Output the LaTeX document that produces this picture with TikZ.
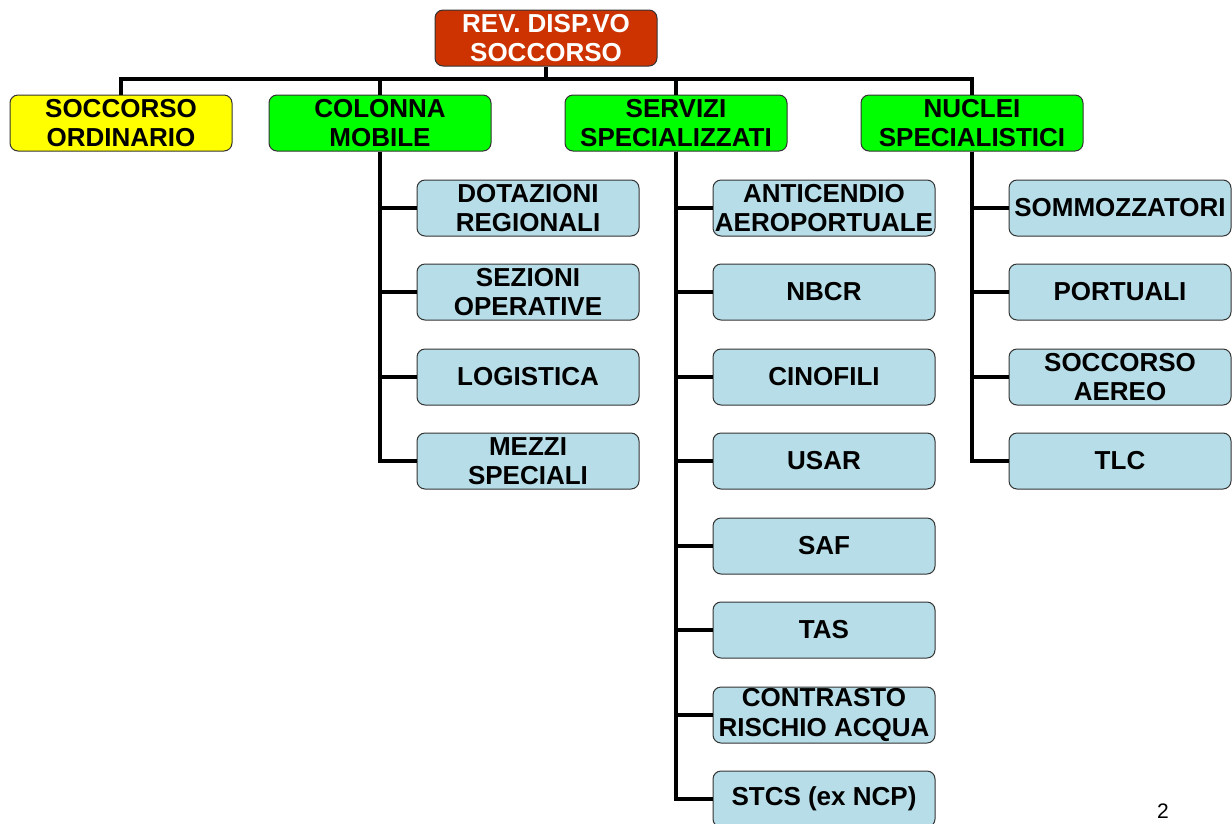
\documentclass[tikz,border=0pt]{standalone}
\usepackage{fontspec}
\setmainfont{Liberation Sans}
\definecolor{rootred}{HTML}{CC3300}
\definecolor{lvlyellow}{HTML}{FFFF00}
\definecolor{lvlgreen}{HTML}{00FF00}
\definecolor{childblue}{HTML}{B7DEE8}
\definecolor{edgegray}{HTML}{333333}
\tikzset{
  box/.style={draw=edgegray, line width=1pt, rounded corners=8pt, minimum width=222pt, minimum height=56pt, inner sep=0pt, align=center, font=\fontsize{26}{29.5}\selectfont\bfseries},
  rootbox/.style={box, fill=rootred, text=white},
  yellowbox/.style={box, fill=lvlyellow},
  greenbox/.style={box, fill=lvlgreen},
  childbox/.style={box, fill=childblue},
  link/.style={line width=3.2pt, draw=black}
}
\begin{document}
\begin{tikzpicture}[x=1pt,y=-1pt]
\useasboundingbox (0,0) rectangle (1232,823);
\coordinate (bus) at (546,79);
% nodes
\node[rootbox] (root) at (546,38) {REV. DISP.VO\\SOCCORSO};
\node[yellowbox] (so) at (121,123) {SOCCORSO\\ORDINARIO};
\node[greenbox] (cm) at (380,123) {COLONNA\\MOBILE};
\node[greenbox] (ss) at (676,123) {SERVIZI\\SPECIALIZZATI};
\node[greenbox] (ns) at (972,123) {NUCLEI\\SPECIALISTICI};
% Colonna mobile children
\node[childbox] (c1) at (528,208) {DOTAZIONI\\REGIONALI};
\node[childbox] (c2) at (528,292) {SEZIONI\\OPERATIVE};
\node[childbox] (c3) at (528,377) {LOGISTICA};
\node[childbox] (c4) at (528,461) {MEZZI\\SPECIALI};
% Servizi specializzati children
\node[childbox] (s1) at (824,208) {ANTICENDIO\\AEROPORTUALE};
\node[childbox] (s2) at (824,292) {NBCR};
\node[childbox] (s3) at (824,377) {CINOFILI};
\node[childbox] (s4) at (824,461) {USAR};
\node[childbox] (s5) at (824,546) {SAF};
\node[childbox] (s6) at (824,630) {TAS};
\node[childbox] (s7) at (824,715) {CONTRASTO\\RISCHIO ACQUA};
\node[childbox] (s8) at (824,799) {STCS (ex NCP)};
% Nuclei specialistici children
\node[childbox] (n1) at (1120,208) {SOMMOZZATORI};
\node[childbox] (n2) at (1120,292) {PORTUALI};
\node[childbox] (n3) at (1120,377) {SOCCORSO\\AEREO};
\node[childbox] (n4) at (1120,461) {TLC};
% page number
\node[font=\fontsize{21}{24}\selectfont, inner sep=0pt] (pg) at (1163,811) {2};
% links
\draw[link] (root.south) -- (bus);
\foreach \t in {so,cm,ss,ns}{
  \draw[link] (bus) -| (\t.north);
}
\foreach \c in {c1,c2,c3,c4}{
  \draw[link] (cm.south) |- (\c.west);
}
\foreach \c in {s1,s2,s3,s4,s5,s6,s7,s8}{
  \draw[link] (ss.south) |- (\c.west);
}
\foreach \c in {n1,n2,n3,n4}{
  \draw[link] (ns.south) |- (\c.west);
}
\end{tikzpicture}
\end{document}
